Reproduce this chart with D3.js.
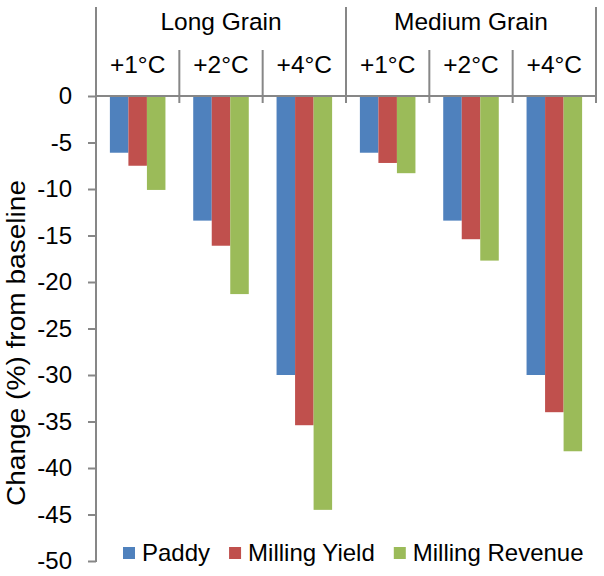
<!DOCTYPE html>
<html>
<head>
<meta charset="utf-8">
<script src="https://cdn.jsdelivr.net/npm/d3@7"></script>
<style>
  html, body { margin: 0; padding: 0; background: #fff; }
  svg { display: block; font-family: "Liberation Sans", Arial, sans-serif; }
</style>
</head>
<body>
<svg id="chart" width="604" height="576"></svg>
<script>
const groups = ["Long Grain", "Medium Grain"];
const temps = ["+1°C", "+2°C", "+4°C"];
const seriesNames = ["Paddy", "Milling Yield", "Milling Revenue"];
const paddy = [-6.1, -13.4, -30.0, -6.1, -13.4, -30.0];
const millingYield = [-7.5, -16.1, -35.4, -7.2, -15.4, -34.0];
const millingRevenue = [-10.1, -21.3, -44.5, -8.3, -17.7, -38.2];
const yTicks = [0, -5, -10, -15, -20, -25, -30, -35, -40, -45, -50];
const colors = ["#4F81BD", "#C0504D", "#9BBB59"];

const seriesValues = [paddy, millingYield, millingRevenue];
const categories = [];
groups.forEach(g => temps.forEach(t => categories.push(g + "|" + t)));

const svg = d3.select("#chart");
const left = 96, right = 596, top0 = 96, bottom = 561;
const axisColor = "#878787";
const fontSize = 24;

const y = d3.scaleLinear().domain([0, -50]).range([top0, bottom]);
const x0 = d3.scaleBand().domain(categories).range([left, right]).padding(0);
const bw = x0.bandwidth();
const gap = bw * 1.5 / 4.5;
const x1 = d3.scaleBand().domain(seriesNames).range([gap / 2, bw - gap / 2]).padding(0);

// bars
const barData = [];
categories.forEach((c, i) => {
  seriesNames.forEach((s, j) => barData.push({ c, s, v: seriesValues[j][i], color: colors[j] }));
});
svg.append("g").selectAll("rect").data(barData).join("rect")
  .attr("x", d => x0(d.c) + x1(d.s))
  .attr("width", x1.bandwidth())
  .attr("y", y(0))
  .attr("height", d => y(d.v) - y(0))
  .attr("fill", d => d.color);

// y axis
const yAxis = d3.axisLeft(y).tickValues(yTicks).tickSize(8).tickPadding(16).tickFormat(d => String(d));
const ya = svg.append("g").attr("transform", `translate(${left},0)`).call(yAxis);
ya.select(".domain").remove();
ya.selectAll(".tick line").attr("stroke", axisColor).attr("stroke-width", 2);
ya.selectAll(".tick text").attr("fill", "#000").style("font-size", fontSize + "px")
  .style("font-family", "'Liberation Sans', Arial, sans-serif");
svg.append("line").attr("x1", left).attr("x2", left).attr("y1", 7).attr("y2", bottom + 1)
  .attr("stroke", axisColor).attr("stroke-width", 2);

// zero line
svg.append("line").attr("x1", left).attr("x2", right).attr("y1", y(0)).attr("y2", y(0))
  .attr("stroke", axisColor).attr("stroke-width", 2);

// category dividers
const bounds = categories.map(c => x0(c)).concat([right]);
bounds.forEach((bx, i) => {
  if (i === 0) return;
  const isGroup = (i % temps.length === 0);
  svg.append("line").attr("x1", bx).attr("x2", bx)
    .attr("y1", isGroup ? 7 : 50).attr("y2", y(0) + 7)
    .attr("stroke", axisColor).attr("stroke-width", 2);
});

// temp labels
svg.append("g").selectAll("text").data(categories).join("text")
  .attr("x", d => x0(d) + bw / 2)
  .attr("y", 73)
  .attr("text-anchor", "middle")
  .style("font-size", "24.5px")
  .text(d => d.split("|")[1]);

// group labels
svg.append("g").selectAll("text").data(groups).join("text")
  .attr("x", g => {
    const first = x0(g + "|" + temps[0]);
    const last = x0(g + "|" + temps[temps.length - 1]) + bw;
    return (first + last) / 2;
  })
  .attr("y", 30)
  .attr("text-anchor", "middle")
  .style("font-size", "24.5px")
  .text(g => g);

// y title
svg.append("text")
  .attr("transform", `translate(25,343) rotate(-90)`)
  .attr("text-anchor", "middle")
  .attr("textLength", 326)
  .attr("lengthAdjust", "spacingAndGlyphs")
  .style("font-size", "25px")
  .text("Change (%) from baseline");

// legend
const lg = svg.append("g");
let lx = 123;
seriesNames.forEach((s, j) => {
  lg.append("rect").attr("x", lx).attr("y", 547).attr("width", 12).attr("height", 12).attr("fill", colors[j]);
  const t = lg.append("text").attr("x", lx + 19).attr("y", 561)
    .style("font-size", "24px").text(s);
  lx += 19 + t.node().getComputedTextLength() + 19;
});
</script>
</body>
</html>
